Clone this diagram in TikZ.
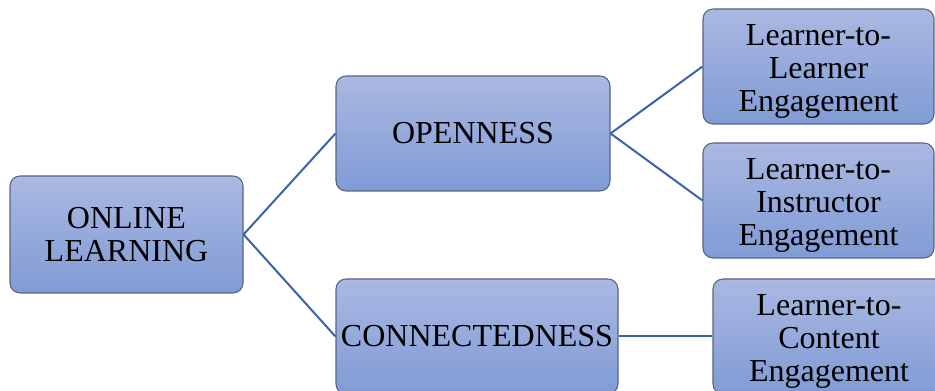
\documentclass[tikz,border=0pt]{standalone}
\usepackage{fontspec}
\setmainfont{Liberation Serif}
\definecolor{boxtop}{RGB}{170,184,226}
\definecolor{boxbot}{RGB}{128,155,213}
\definecolor{boxline}{RGB}{88,100,130}
\definecolor{linkblue}{RGB}{62,98,168}
\newcommand{\toplift}{\rule{0pt}{23pt}}
\tikzset{
  topic/.style={draw=boxline, line width=0.8pt, rounded corners=7.5pt,
    top color=boxtop, bottom color=boxbot, align=center,
    font=\fontsize{24}{24.5}\selectfont, inner sep=0pt},
  engage/.style={topic, minimum width=173.25pt, minimum height=86.25pt},
  link/.style={draw=linkblue, line width=1.5pt}
}
\begin{document}
\begin{tikzpicture}[x=0.75pt,y=-0.75pt]
  \clip (0,0) rectangle (935,391);
  \fill[white] (0,0) rectangle (935,391);
  % main topic and its two branches
  \node[topic, minimum width=174.75pt, minimum height=87.75pt] (online) at (126.5,234.5) {ONLINE\\LEARNING};
  \node[topic, minimum width=205.5pt, minimum height=86.25pt] (open) at (473,133.5) {OPENNESS};
  \node[topic, minimum width=211.5pt, minimum height=86.25pt] (conn) at (477,336.5) {CONNECTEDNESS};
  % engagement boxes
  \node[engage] (lrnlrn) at (818.5,66.5) {\toplift Learner-to-\\Learner\\Engagement};
  \node[engage] (lrnins) at (818.5,200.5) {\toplift Learner-to-\\Instructor\\Engagement};
  \node[engage, minimum width=174pt] (lrncon) at (829,336.5) {\toplift Learner-to-\\Content\\Engagement};
  % connectors
  \draw[link] (online.east) -- (open.west);
  \draw[link] (online.east) -- (conn.west);
  \draw[link] (open.east) -- (lrnlrn.west);
  \draw[link] (open.east) -- (lrnins.west);
  \draw[link] (conn.east) -- (lrncon.west);
\end{tikzpicture}
\end{document}
